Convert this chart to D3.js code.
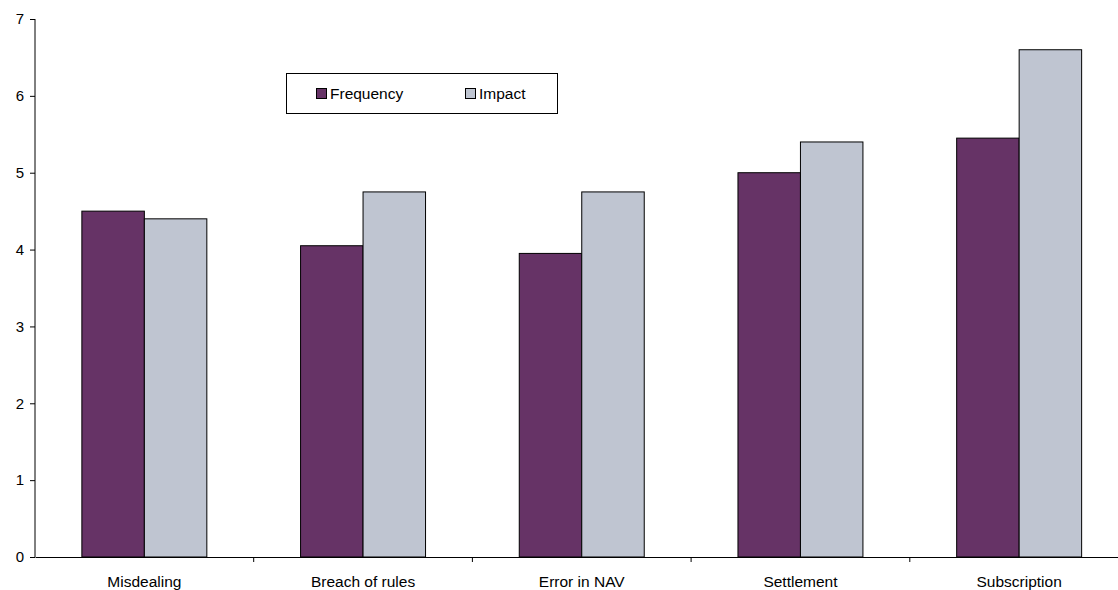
<!DOCTYPE html>
<html><head><meta charset="utf-8">
<script src="https://cdn.jsdelivr.net/npm/d3@7"></script>
<style>body{margin:0;background:#fff}svg{display:block}text{font-family:"Liberation Sans",Arial,sans-serif}</style>
</head><body>
<script>
const categories = ["Misdealing","Breach of rules","Error in NAV","Settlement","Subscription"];
const frequency = [4.5, 4.05, 3.95, 5.0, 5.45];
const impact = [4.4, 4.75, 4.75, 5.4, 6.6];
const seriesNames = ["Frequency","Impact"];
const yTicks = [0,1,2,3,4,5,6,7];

const W = 1118, H = 590;
const svg = d3.select("body").append("svg").attr("width", W).attr("height", H);
const x0 = 35, plotW = 1093.5, y0 = 557, yTop = 19;
const x = d3.scaleBand().domain(categories).range([x0, x0 + plotW]).paddingInner(0).paddingOuter(0);
const y = d3.scaleLinear().domain([0, 7]).range([y0, yTop]);
const colors = {Frequency: "#663366", Impact: "#BFC5D1"};
const barW = x.bandwidth() / 3.5;
const x1 = d3.scaleBand().domain(seriesNames).range([0, 2 * barW]);

const rows = categories.map((c, i) => ({c, vals: [{s: "Frequency", v: frequency[i]}, {s: "Impact", v: impact[i]}]}));
const g = svg.append("g");
g.selectAll("g.grp").data(rows).join("g")
  .attr("transform", d => `translate(${x(d.c) + (x.bandwidth() - 2 * barW) / 2},0)`)
  .selectAll("rect").data(d => d.vals).join("rect")
  .attr("x", d => x1(d.s)).attr("width", barW)
  .attr("y", d => y(d.v)).attr("height", d => y0 - y(d.v))
  .attr("fill", d => colors[d.s]).attr("stroke", "#000").attr("stroke-width", 1);

// y axis
const ya = svg.append("g").attr("transform", `translate(${x0},0)`)
  .call(d3.axisLeft(y).tickValues(yTicks).tickFormat(d3.format("d")).tickSize(5).tickPadding(6));
ya.select(".domain").attr("stroke", "#000").attr("d", `M0,${y0}V${yTop}`);
ya.selectAll(".tick line").attr("stroke", "#000");
ya.selectAll("text").attr("font-size", 15).attr("fill", "#000");

// x axis
const xa = svg.append("g").attr("transform", `translate(0,${y0})`)
  .call(d3.axisBottom(x).tickSize(0));
xa.select(".domain").attr("stroke", "#000");
xa.selectAll("text").attr("font-size", 15.5).attr("fill", "#000").attr("dy", null).attr("y", 30);
const bounds = categories.slice(1).map(c => x(c));
xa.selectAll("line.sep").data(bounds).join("line").attr("class", "sep")
  .attr("x1", d => d).attr("x2", d => d).attr("y1", 0).attr("y2", 5).attr("stroke", "#000");

// legend
const lg = svg.append("g");
lg.append("rect").attr("x", 286.5).attr("y", 73.5).attr("width", 271).attr("height", 40)
  .attr("fill", "#fff").attr("stroke", "#000");
const legendPos = [316, 465];
seriesNames.forEach((s, i) => {
  lg.append("rect").attr("x", legendPos[i] + 0.5).attr("y", 88.5).attr("width", 10).attr("height", 10)
    .attr("fill", colors[s]).attr("stroke", "#000");
  lg.append("text").attr("x", legendPos[i] + 14).attr("y", 99).attr("font-size", 15.5).attr("fill", "#000").text(s);
});
</script>
</body></html>
